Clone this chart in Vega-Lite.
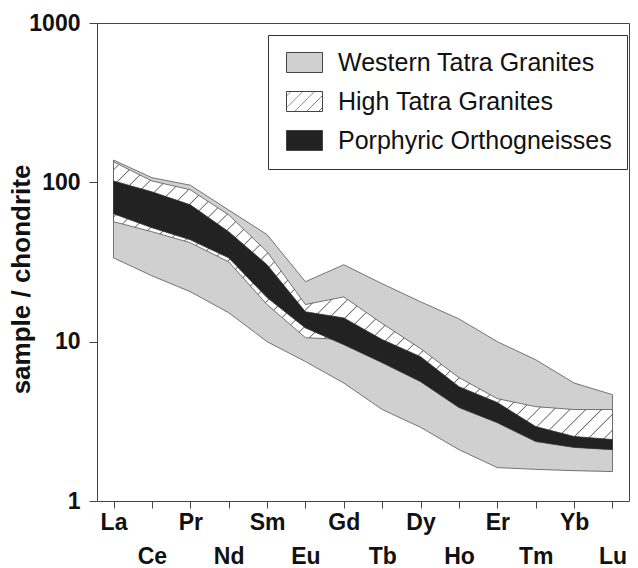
{
 "$schema": "https://vega.github.io/schema/vega-lite/v6.json",
 "width": 532, "height": 478,
 "autosize": "none",
 "padding": {"left": 97, "top": 23, "right": 9, "bottom": 67},
 "config": {"font": "Liberation Sans", "view": {"stroke": "#444", "strokeWidth": 1}, "axis": {"grid": false, "domain": false, "tickColor": "#444", "labelColor": "#111", "titleColor": "#111"}},
 "data": {"values": [
  {"band": "Western Tatra Granites", "el": "La", "lo": 33.6, "hi": 138},
  {"band": "Western Tatra Granites", "el": "Ce", "lo": 25.9, "hi": 107},
  {"band": "Western Tatra Granites", "el": "Pr", "lo": 20.6, "hi": 96},
  {"band": "Western Tatra Granites", "el": "Nd", "lo": 15.2, "hi": 67},
  {"band": "Western Tatra Granites", "el": "Sm", "lo": 10, "hi": 47},
  {"band": "Western Tatra Granites", "el": "Eu", "lo": 7.5, "hi": 23.8},
  {"band": "Western Tatra Granites", "el": "Gd", "lo": 5.5, "hi": 30.4},
  {"band": "Western Tatra Granites", "el": "Tb", "lo": 3.75, "hi": 23.1},
  {"band": "Western Tatra Granites", "el": "Dy", "lo": 2.9, "hi": 17.8},
  {"band": "Western Tatra Granites", "el": "Ho", "lo": 2.1, "hi": 13.9},
  {"band": "Western Tatra Granites", "el": "Er", "lo": 1.62, "hi": 10},
  {"band": "Western Tatra Granites", "el": "Tm", "lo": 1.58, "hi": 7.7},
  {"band": "Western Tatra Granites", "el": "Yb", "lo": 1.55, "hi": 5.5},
  {"band": "Western Tatra Granites", "el": "Lu", "lo": 1.53, "hi": 4.65},
  {"band": "High Tatra Granites", "el": "La", "lo": 56.6, "hi": 134.5},
  {"band": "High Tatra Granites", "el": "Ce", "lo": 49, "hi": 102},
  {"band": "High Tatra Granites", "el": "Pr", "lo": 41.8, "hi": 89.8},
  {"band": "High Tatra Granites", "el": "Nd", "lo": 31.7, "hi": 62.5},
  {"band": "High Tatra Granites", "el": "Sm", "lo": 17.1, "hi": 36.7},
  {"band": "High Tatra Granites", "el": "Eu", "lo": 10.6, "hi": 17.1},
  {"band": "High Tatra Granites", "el": "Gd", "lo": 10.3, "hi": 19.1},
  {"band": "High Tatra Granites", "el": "Tb", "lo": 8.66, "hi": 13.0},
  {"band": "High Tatra Granites", "el": "Dy", "lo": 6.67, "hi": 9.04},
  {"band": "High Tatra Granites", "el": "Ho", "lo": 4.65, "hi": 5.95},
  {"band": "High Tatra Granites", "el": "Er", "lo": 3.64, "hi": 4.39},
  {"band": "High Tatra Granites", "el": "Tm", "lo": 2.65, "hi": 3.91},
  {"band": "High Tatra Granites", "el": "Yb", "lo": 2.36, "hi": 3.75},
  {"band": "High Tatra Granites", "el": "Lu", "lo": 2.26, "hi": 3.75},
  {"band": "Porphyric Orthogneisses", "el": "La", "lo": 63.5, "hi": 102},
  {"band": "Porphyric Orthogneisses", "el": "Ce", "lo": 51.9, "hi": 87.2},
  {"band": "Porphyric Orthogneisses", "el": "Pr", "lo": 43.6, "hi": 72.3},
  {"band": "Porphyric Orthogneisses", "el": "Nd", "lo": 33.6, "hi": 49},
  {"band": "Porphyric Orthogneisses", "el": "Sm", "lo": 18.9, "hi": 30.4},
  {"band": "Porphyric Orthogneisses", "el": "Eu", "lo": 12.2, "hi": 15.4},
  {"band": "Porphyric Orthogneisses", "el": "Gd", "lo": 9.58, "hi": 14.1},
  {"band": "Porphyric Orthogneisses", "el": "Tb", "lo": 7.38, "hi": 10.3},
  {"band": "Porphyric Orthogneisses", "el": "Dy", "lo": 5.61, "hi": 8.05},
  {"band": "Porphyric Orthogneisses", "el": "Ho", "lo": 3.86, "hi": 5.22},
  {"band": "Porphyric Orthogneisses", "el": "Er", "lo": 3.10, "hi": 4.15},
  {"band": "Porphyric Orthogneisses", "el": "Tm", "lo": 2.36, "hi": 2.93},
  {"band": "Porphyric Orthogneisses", "el": "Yb", "lo": 2.17, "hi": 2.54},
  {"band": "Porphyric Orthogneisses", "el": "Lu", "lo": 2.10, "hi": 2.43}
 ]},
 "encoding": {
  "x": {"field": "el", "type": "ordinal",
   "scale": {"type": "point", "domain": ["La","Ce","Pr","Nd","Sm","Eu","Gd","Tb","Dy","Ho","Er","Tm","Yb","Lu"], "padding": 0.43},
   "axis": {"title": null, "labelAngle": 0, "labelFontSize": 23, "labelFontWeight": "bold", "tickSize": 7, "labelPadding": 3, "labelBaseline": "top", "labelLineHeight": 34, "labelOverlap": false,
    "labelExpr": "indexof(['Ce','Nd','Eu','Tb','Ho','Tm','Lu'], datum.value) >= 0 ? ['', datum.value] : datum.value"}},
  "y": {"field": "hi", "type": "quantitative",
   "scale": {"type": "log", "domain": [1, 1000]},
   "axis": {"title": "sample / chondrite", "values": [1, 10, 100, 1000], "format": "d", "labelFontSize": 23, "labelFontWeight": "bold", "labelFlush": false, "labelOverlap": false, "tickSize": 8, "labelPadding": 9,
    "titleFontSize": 26, "titleFontWeight": "bold", "titleX": -76, "titleY": 256, "titleAngle": -90, "titleAlign": "center", "titleBaseline": "middle"}},
  "y2": {"field": "lo"}
 },
 "layer": [
  {"transform": [{"filter": "datum.band === 'Western Tatra Granites'"}],
   "mark": {"type": "area", "stroke": "#555", "strokeWidth": 0.8},
   "encoding": {"color": {"field": "band", "type": "nominal",
    "scale": {"domain": ["Western Tatra Granites", "High Tatra Granites", "Porphyric Orthogneisses"], "range": ["#d0d0d0",
      {"expr": "{gradient: 'linear', x1: 0, y1: 0, x2: 1.2, y2: 0.667, stops: [{offset: 0, color: '#fff'}, {offset: 0.066, color: '#fff'}, {offset: 0.08, color: '#666'}, {offset: 0.094, color: '#fff'}, {offset: 0.276, color: '#fff'}, {offset: 0.29, color: '#666'}, {offset: 0.304, color: '#fff'}, {offset: 0.486, color: '#fff'}, {offset: 0.5, color: '#666'}, {offset: 0.514, color: '#fff'}, {offset: 0.696, color: '#fff'}, {offset: 0.71, color: '#666'}, {offset: 0.724, color: '#fff'}, {offset: 0.906, color: '#fff'}, {offset: 0.92, color: '#666'}, {offset: 0.934, color: '#fff'}, {offset: 1, color: '#fff'}]}"},
      "#222222"]},
    "legend": {"title": null, "orient": "none", "legendX": 171, "legendY": 12, "fillColor": "white", "strokeColor": "#333", "padding": 15, "labelFontSize": 25, "labelColor": "#111", "labelLimit": 400, "labelOffset": 30, "symbolOffset": 0, "symbolType": "M-0.9,-1H2.7V1H-0.9Z", "symbolSize": 400, "symbolStrokeColor": "#444", "symbolStrokeWidth": 1, "rowPadding": 13}}}},
  {"transform": [{"filter": "datum.band === 'High Tatra Granites'"}],
   "mark": {"type": "area", "stroke": "#555", "strokeWidth": 0.8,
    "fill": {"gradient": "linear", "x1": 0, "y1": 0, "x2": 1.2, "y2": 0.68, "stops": [
     {"offset": 0.0085, "color": "#fff"}, {"offset": 0.01, "color": "#666"}, {"offset": 0.0115, "color": "#fff"},
     {"offset": 0.0285, "color": "#fff"}, {"offset": 0.03, "color": "#666"}, {"offset": 0.0315, "color": "#fff"},
     {"offset": 0.0485, "color": "#fff"}, {"offset": 0.05, "color": "#666"}, {"offset": 0.0515, "color": "#fff"},
     {"offset": 0.0685, "color": "#fff"}, {"offset": 0.07, "color": "#666"}, {"offset": 0.0715, "color": "#fff"},
     {"offset": 0.0885, "color": "#fff"}, {"offset": 0.09, "color": "#666"}, {"offset": 0.0915, "color": "#fff"},
     {"offset": 0.1085, "color": "#fff"}, {"offset": 0.11, "color": "#666"}, {"offset": 0.1115, "color": "#fff"},
     {"offset": 0.1285, "color": "#fff"}, {"offset": 0.13, "color": "#666"}, {"offset": 0.1315, "color": "#fff"},
     {"offset": 0.1485, "color": "#fff"}, {"offset": 0.15, "color": "#666"}, {"offset": 0.1515, "color": "#fff"},
     {"offset": 0.1685, "color": "#fff"}, {"offset": 0.17, "color": "#666"}, {"offset": 0.1715, "color": "#fff"},
     {"offset": 0.1885, "color": "#fff"}, {"offset": 0.19, "color": "#666"}, {"offset": 0.1915, "color": "#fff"},
     {"offset": 0.2085, "color": "#fff"}, {"offset": 0.21, "color": "#666"}, {"offset": 0.2115, "color": "#fff"},
     {"offset": 0.2285, "color": "#fff"}, {"offset": 0.23, "color": "#666"}, {"offset": 0.2315, "color": "#fff"},
     {"offset": 0.2485, "color": "#fff"}, {"offset": 0.25, "color": "#666"}, {"offset": 0.2515, "color": "#fff"},
     {"offset": 0.2685, "color": "#fff"}, {"offset": 0.27, "color": "#666"}, {"offset": 0.2715, "color": "#fff"},
     {"offset": 0.2885, "color": "#fff"}, {"offset": 0.29, "color": "#666"}, {"offset": 0.2915, "color": "#fff"},
     {"offset": 0.3085, "color": "#fff"}, {"offset": 0.31, "color": "#666"}, {"offset": 0.3115, "color": "#fff"},
     {"offset": 0.3285, "color": "#fff"}, {"offset": 0.33, "color": "#666"}, {"offset": 0.3315, "color": "#fff"},
     {"offset": 0.3485, "color": "#fff"}, {"offset": 0.35, "color": "#666"}, {"offset": 0.3515, "color": "#fff"},
     {"offset": 0.3685, "color": "#fff"}, {"offset": 0.37, "color": "#666"}, {"offset": 0.3715, "color": "#fff"},
     {"offset": 0.3885, "color": "#fff"}, {"offset": 0.39, "color": "#666"}, {"offset": 0.3915, "color": "#fff"},
     {"offset": 0.4085, "color": "#fff"}, {"offset": 0.41, "color": "#666"}, {"offset": 0.4115, "color": "#fff"},
     {"offset": 0.4285, "color": "#fff"}, {"offset": 0.43, "color": "#666"}, {"offset": 0.4315, "color": "#fff"},
     {"offset": 0.4485, "color": "#fff"}, {"offset": 0.45, "color": "#666"}, {"offset": 0.4515, "color": "#fff"},
     {"offset": 0.4685, "color": "#fff"}, {"offset": 0.47, "color": "#666"}, {"offset": 0.4715, "color": "#fff"},
     {"offset": 0.4885, "color": "#fff"}, {"offset": 0.49, "color": "#666"}, {"offset": 0.4915, "color": "#fff"},
     {"offset": 0.5085, "color": "#fff"}, {"offset": 0.51, "color": "#666"}, {"offset": 0.5115, "color": "#fff"},
     {"offset": 0.5285, "color": "#fff"}, {"offset": 0.53, "color": "#666"}, {"offset": 0.5315, "color": "#fff"},
     {"offset": 0.5485, "color": "#fff"}, {"offset": 0.55, "color": "#666"}, {"offset": 0.5515, "color": "#fff"},
     {"offset": 0.5685, "color": "#fff"}, {"offset": 0.57, "color": "#666"}, {"offset": 0.5715, "color": "#fff"},
     {"offset": 0.5885, "color": "#fff"}, {"offset": 0.59, "color": "#666"}, {"offset": 0.5915, "color": "#fff"},
     {"offset": 0.6085, "color": "#fff"}, {"offset": 0.61, "color": "#666"}, {"offset": 0.6115, "color": "#fff"},
     {"offset": 0.6285, "color": "#fff"}, {"offset": 0.63, "color": "#666"}, {"offset": 0.6315, "color": "#fff"},
     {"offset": 0.6485, "color": "#fff"}, {"offset": 0.65, "color": "#666"}, {"offset": 0.6515, "color": "#fff"},
     {"offset": 0.6685, "color": "#fff"}, {"offset": 0.67, "color": "#666"}, {"offset": 0.6715, "color": "#fff"},
     {"offset": 0.6885, "color": "#fff"}, {"offset": 0.69, "color": "#666"}, {"offset": 0.6915, "color": "#fff"},
     {"offset": 0.7085, "color": "#fff"}, {"offset": 0.71, "color": "#666"}, {"offset": 0.7115, "color": "#fff"},
     {"offset": 0.7285, "color": "#fff"}, {"offset": 0.73, "color": "#666"}, {"offset": 0.7315, "color": "#fff"},
     {"offset": 0.7485, "color": "#fff"}, {"offset": 0.75, "color": "#666"}, {"offset": 0.7515, "color": "#fff"},
     {"offset": 0.7685, "color": "#fff"}, {"offset": 0.77, "color": "#666"}, {"offset": 0.7715, "color": "#fff"},
     {"offset": 0.7885, "color": "#fff"}, {"offset": 0.79, "color": "#666"}, {"offset": 0.7915, "color": "#fff"},
     {"offset": 0.8085, "color": "#fff"}, {"offset": 0.81, "color": "#666"}, {"offset": 0.8115, "color": "#fff"},
     {"offset": 0.8285, "color": "#fff"}, {"offset": 0.83, "color": "#666"}, {"offset": 0.8315, "color": "#fff"},
     {"offset": 0.8485, "color": "#fff"}, {"offset": 0.85, "color": "#666"}, {"offset": 0.8515, "color": "#fff"},
     {"offset": 0.8685, "color": "#fff"}, {"offset": 0.87, "color": "#666"}, {"offset": 0.8715, "color": "#fff"},
     {"offset": 0.8885, "color": "#fff"}, {"offset": 0.89, "color": "#666"}, {"offset": 0.8915, "color": "#fff"},
     {"offset": 0.9085, "color": "#fff"}, {"offset": 0.91, "color": "#666"}, {"offset": 0.9115, "color": "#fff"},
     {"offset": 0.9285, "color": "#fff"}, {"offset": 0.93, "color": "#666"}, {"offset": 0.9315, "color": "#fff"},
     {"offset": 0.9485, "color": "#fff"}, {"offset": 0.95, "color": "#666"}, {"offset": 0.9515, "color": "#fff"},
     {"offset": 0.9685, "color": "#fff"}, {"offset": 0.97, "color": "#666"}, {"offset": 0.9715, "color": "#fff"},
     {"offset": 0.9885, "color": "#fff"}, {"offset": 0.99, "color": "#666"}, {"offset": 0.9915, "color": "#fff"}
    ]}}},
  {"transform": [{"filter": "datum.band === 'Porphyric Orthogneisses'"}],
   "mark": {"type": "area", "stroke": "#333", "strokeWidth": 0.8},
   "encoding": {"color": {"field": "band", "type": "nominal",
    "scale": {"domain": ["Western Tatra Granites", "High Tatra Granites", "Porphyric Orthogneisses"]},
    "legend": {"title": null, "orient": "none", "legendX": 171, "legendY": 12, "fillColor": "white", "strokeColor": "#333", "padding": 15, "labelFontSize": 25, "labelColor": "#111", "labelLimit": 400, "labelOffset": 30, "symbolOffset": 0, "symbolType": "M-0.9,-1H2.7V1H-0.9Z", "symbolSize": 400, "symbolStrokeColor": "#444", "symbolStrokeWidth": 1, "rowPadding": 13}}}}
 ]
}
